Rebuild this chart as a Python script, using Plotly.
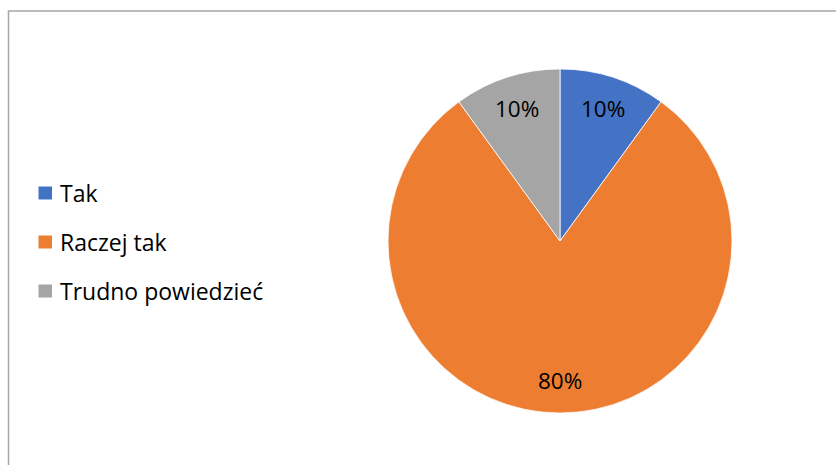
import math
import plotly.graph_objects as go

# Survey answers and their shares (%)
categories = ["Tak", "Raczej tak", "Trudno powiedzieć"]
shares = [10, 80, 10]
colors = ["#4472C4", "#ED7D31", "#A5A5A5"]

W, H = 836, 465
FONT = "Open Sans"
FS = 23

# pie geometry in pixels
CX, CY, R = 560, 241, 172

fig = go.Figure(
    go.Pie(
        labels=categories,
        values=shares,
        sort=False,
        direction="clockwise",
        rotation=0,
        marker=dict(colors=colors, line=dict(color="white", width=0.8)),
        textinfo="none",
        domain=dict(x=[(CX - R) / W, (CX + R) / W],
                    y=[(H - CY - R) / H, (H - CY + R) / H]),
        showlegend=False,
        hoverinfo="label+percent",
    )
)

shapes = [
    dict(type="rect", xref="paper", yref="paper",
         x0=8.5 / W, x1=1.2, y0=-0.2, y1=(H - 11) / H,
         line=dict(color="#A6A6A6", width=1.5), fillcolor="rgba(0,0,0,0)",
         layer="below")
]
annotations = []

# percentage labels placed along each slice's mid-angle
total = sum(shares)
cum = 0
for v in shares:
    mid = (cum + v / 2) / total * 2 * math.pi
    cum += v
    px = CX + 0.8 * R * math.sin(mid)
    py = CY - 0.81 * R * math.cos(mid)
    annotations.append(dict(xref="paper", yref="paper", x=px / W, y=(H - py) / H,
                            xanchor="center", yanchor="middle", showarrow=False,
                            text=f"{v}%", font=dict(family=FONT, size=22.5, color="black")))

# legend on the left: coloured square + label per category
legend_y = [193, 242, 291]
for name, col, ly in zip(categories, colors, legend_y):
    shapes.append(dict(type="rect", xref="paper", yref="paper",
                       x0=38.5 / W, x1=52 / W,
                       y0=(H - ly - 6.5) / H, y1=(H - ly + 6.5) / H,
                       line=dict(width=0), fillcolor=col))
    annotations.append(dict(xref="paper", yref="paper", x=58 / W, y=(H - ly) / H,
                            xanchor="left", yanchor="middle", showarrow=False,
                            text=name, font=dict(family=FONT, size=FS, color="black")))

fig.update_layout(
    width=W, height=H,
    margin=dict(l=0, r=0, t=0, b=0),
    paper_bgcolor="white",
    plot_bgcolor="white",
    shapes=shapes,
    annotations=annotations,
)

fig.write_html("out.html")
